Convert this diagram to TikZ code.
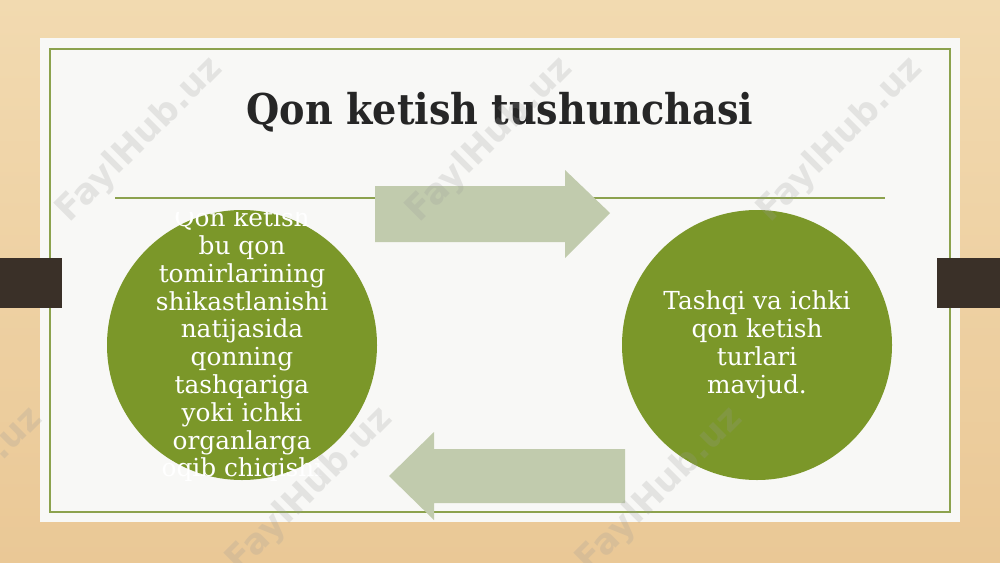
\documentclass[tikz,border=0pt]{standalone}
\usepackage{fontspec}
\setmainfont{DejaVu Serif}
\newfontfamily\titlefont{DejaVu Serif Condensed}
\newfontfamily\markfont{DejaVu Sans}
\usepackage{xcolor}
\usetikzlibrary{calc}

\definecolor{wood}{RGB}{234,200,150}
\definecolor{woodlight}{RGB}{242,218,176}
\definecolor{card}{RGB}{248,248,246}
\definecolor{olive}{RGB}{123,151,41}
\definecolor{rule}{RGB}{140,162,78}
\definecolor{paleg}{RGB}{193,203,173}
\definecolor{tab}{RGB}{58,48,40}

\tikzset{
	disc/.style={circle,fill=olive,minimum size=135pt,inner sep=0pt},
	disctext/.style={text=white,align=center,font=\fontsize{12.4}{13.9}\selectfont},
	wmark/.style={text=black!40,opacity=.22,rotate=45,font=\markfont\bfseries\fontsize{17.5}{17.5}\selectfont}
}

\begin{document}
\begin{tikzpicture}[x=0.5pt,y=-0.5pt]
	\useasboundingbox (0,0) rectangle (1000,562);
	\shade[top color=woodlight,bottom color=wood] (0,0) rectangle (1000,562);
	
	% card and frame
	\fill[card] (40,38) rectangle (960,522);
	\draw[rule,line width=.6pt] (50,49) rectangle (950,512);
	\fill[tab] (0,258) rectangle (62,308);
	\fill[tab] (937,258) rectangle (1000,308);
	
	\node[font=\titlefont\bfseries\fontsize{21.2}{24}\selectfont,text=black!85] (title) at (500,112) {Qon ketish tushunchasi};
	\draw[rule,line width=.6pt] (115,198) -- (885,198);
	
	% arrows
	\fill[paleg] (375,186) -- (565,186) -- (565,170) -- (610,213) -- (565,258) -- (565,242) -- (375,242) -- cycle;
	\fill[paleg] (625,449) -- (434,449) -- (434,432) -- (389,476) -- (434,520) -- (434,503) -- (625,503) -- cycle;
	
	\node[disc] (left) at (242,345) {};
	\node[disc] (right) at (757,345) {};
	
	\begin{scope}
		\clip (100,212) rectangle (385,480);
		\node[disctext] (lefttext) at (left.center) {Qon ketish\\bu qon\\tomirlarining\\shikastlanishi\\natijasida\\qonning\\tashqariga\\yoki ichki\\organlarga\\oqib chiqishi};
	\end{scope}
	\node[disctext] (righttext) at (right.center) {Tashqi va ichki\\qon ketish\\turlari\\mavjud.};
	
	% watermarks
	\foreach \x/\y in {140/140,490/140,840/140,-40/490,310/490,660/490}
		\node[wmark] at (\x,\y) {FaylHub.uz};
\end{tikzpicture}
\end{document}
